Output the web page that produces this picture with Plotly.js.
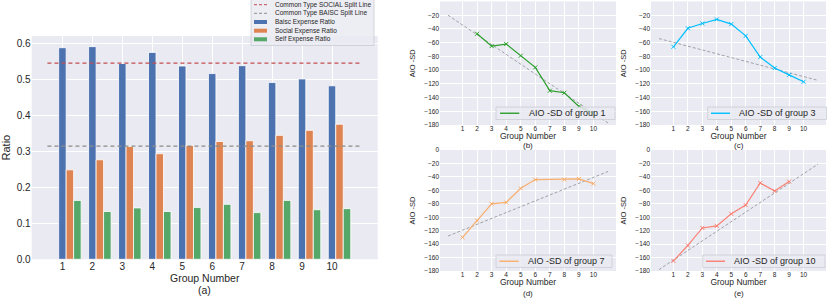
<!DOCTYPE html>
<html>
<head>
<meta charset="utf-8">
<script src="https://cdn.plot.ly/plotly-3.0.1.min.js"></script>
<style>html,body{margin:0;padding:0;background:#fff;}#chart{width:830px;height:300px;}</style>
</head>
<body>
<div id="chart"></div>
<script>
// ---------- data ----------
const groups = [1, 2, 3, 4, 5, 6, 7, 8, 9, 10];
const groupTickText = ['1', '2', '3', '4', '5', '6', '7', '8', '9', '10'];
const basicRatio  = [0.589, 0.592, 0.545, 0.576, 0.538, 0.517, 0.539, 0.492, 0.502, 0.483];
const socialRatio = [0.249, 0.277, 0.314, 0.294, 0.317, 0.328, 0.330, 0.345, 0.359, 0.376];
const selfRatio   = [0.164, 0.133, 0.143, 0.133, 0.144, 0.153, 0.130, 0.164, 0.138, 0.141];
const socialSplitX = [0.5, 11];
const socialSplitY = [0.546, 0.546];
const basicSplitX = [0.5, 11];
const basicSplitY = [0.315, 0.315];

const g1X = [2, 3, 4, 5, 6, 7, 8, 9, 10];
const g1Y = [-47, -65, -62, -79, -96, -130, -133, -153, -163];
const g3X = [1, 2, 3, 4, 5, 6, 7, 8, 9, 10];
const g3Y = [-66, -39, -32, -26, -33, -50, -81, -97, -107, -117];
const g7X = [1, 2, 3, 4, 5, 6, 8, 9, 10];
const g7Y = [-130, -105, -80, -78, -57, -44, -44, -43, -50];
const g10X = [1, 2, 3, 4, 5, 6, 7, 8, 9];
const g10Y = [-165, -142, -116, -113, -95, -82, -49, -61, -47];

const trendX = [0, 11];
const trend1Y = [-20, -177];
const trend3Y = [-54, -115];
const trend7Y = [-128, -32];
const trend10Y = [-178, -21];

const aioTicks = [-180, -160, -140, -120, -100, -80, -60, -40, -20, 0];
const ratioTicks = [0, 0.1, 0.2, 0.3, 0.4, 0.5, 0.6];

const mainLegendLabels = ['Common Type SOCIAL Split Line', 'Common Type BAISC Split Line',
  'Baisc Expense Ratio', 'Social Expense Ratio', 'Self Expense Ratio'];
const subLegendLabels = ['AIO -SD of group 1', 'AIO -SD of group 3', 'AIO -SD of group 7', 'AIO -SD of group 10'];
const panelLabels = ['(a)', '(b)', '(c)', '(d)', '(e)'];

// ---------- styling ----------
const W = 830, H = 300;
const px = x => x / W;
const py = y => 1 - y / H;
const BG = '#EAEAF2';
const TXT = '#262626';
const FONT = 'Liberation Sans, Arial, sans-serif';
const cBasic = '#4C72B0', cSocial = '#DD8452', cSelf = '#55A868';
const cRed = '#C44E52', cGray = '#8C8C8C', cTrend = '#A0A0A8';
const lineColors = ['#2CA02C', '#00BFFF', '#F8AE6C', '#FA8072'];

const traces = [];
// bars
[[basicRatio, cBasic, -0.125, mainLegendLabels[2]],
 [socialRatio, cSocial, 0.125, mainLegendLabels[3]],
 [selfRatio, cSelf, 0.375, mainLegendLabels[4]]].forEach(([vals, col, off, name]) => {
  traces.push({type: 'bar', x: groups, y: vals, width: 0.25, offset: off, name: name,
    marker: {color: col, line: {color: '#ffffff', width: 0.8}}, xaxis: 'x', yaxis: 'y', showlegend: false});
});
traces.push({type: 'scatter', mode: 'lines', x: socialSplitX, y: socialSplitY, name: mainLegendLabels[0],
  line: {color: cRed, width: 1.2, dash: '4px,3px'}, xaxis: 'x', yaxis: 'y', showlegend: false});
traces.push({type: 'scatter', mode: 'lines', x: basicSplitX, y: basicSplitY, name: mainLegendLabels[1],
  line: {color: cGray, width: 1.2, dash: '4px,3px'}, xaxis: 'x', yaxis: 'y', showlegend: false});

// sub panels
const subs = [[g1X, g1Y, trend1Y, 'x2', 'y2'], [g3X, g3Y, trend3Y, 'x3', 'y3'],
              [g7X, g7Y, trend7Y, 'x4', 'y4'], [g10X, g10Y, trend10Y, 'x5', 'y5']];
subs.forEach(([xs, ys, tr, xa, ya], i) => {
  traces.push({type: 'scatter', mode: 'lines', x: trendX, y: tr, xaxis: xa, yaxis: ya, showlegend: false,
    line: {color: cTrend, width: 1, dash: '3px,2px'}, hoverinfo: 'skip'});
  traces.push({type: 'scatter', mode: 'lines+markers', x: xs, y: ys, xaxis: xa, yaxis: ya, showlegend: false,
    name: subLegendLabels[i],
    line: {color: lineColors[i], width: 1.2},
    marker: {symbol: 'x-thin', size: 4, line: {color: lineColors[i], width: 1}}});
});

// ---------- axes ----------
function subX(dom) {
  return {domain: dom, range: [-0.55, 11.55], tickvals: groups, ticktext: groupTickText,
    tickfont: {size: 6.5, color: TXT}, showgrid: true, gridcolor: '#ffffff', gridwidth: 1,
    zeroline: false, showline: false, ticks: '', automargin: false, ticklabelstandoff: -2,
    title: {text: 'Group Number', font: {size: 8.5, color: TXT}, standoff: 0}};
}
function subY(dom) {
  return {domain: dom, range: [-180, 0], tickvals: aioTicks, tickfont: {size: 6.5, color: TXT},
    showgrid: true, gridcolor: '#ffffff', gridwidth: 1, zeroline: false, showline: false, ticks: '',
    automargin: false, title: {text: 'AIO -SD', font: {size: 7.5, color: TXT}, standoff: 7}};
}
const domBx = [px(440), px(616)], domCx = [px(651), px(826)];
const domTopY = [py(125), py(1.5)], domBotY = [py(271), py(150)];

const layout = {
  width: W, height: H, margin: {l: 0, r: 0, t: 0, b: 0},
  paper_bgcolor: '#ffffff', plot_bgcolor: BG, font: {family: FONT, color: TXT},
  barmode: 'overlay', showlegend: false,
  xaxis: {domain: [px(31.7), px(377.7)], range: [-0.025, 11.525], tickvals: groups, ticktext: groupTickText,
    tickfont: {size: 10, color: TXT}, showgrid: true, gridcolor: '#ffffff', zeroline: false, showline: false,
    ticks: '', automargin: false, title: {text: 'Group Number', font: {size: 10.5, color: TXT}, standoff: 0}},
  yaxis: {domain: [py(259.3), py(36)], range: [0, 0.6216], tickvals: ratioTicks, tickformat: '.1f',
    tickfont: {size: 10, color: TXT}, showgrid: true, gridcolor: '#ffffff', zeroline: false, showline: false,
    ticks: '', automargin: false, title: {text: 'Ratio', font: {size: 11, color: TXT}, standoff: 3}},
  xaxis2: Object.assign(subX(domBx), {anchor: 'y2'}), yaxis2: Object.assign(subY(domTopY), {anchor: 'x2'}),
  xaxis3: Object.assign(subX(domCx), {anchor: 'y3'}), yaxis3: Object.assign(subY(domTopY), {anchor: 'x3'}),
  xaxis4: Object.assign(subX(domBx), {anchor: 'y4'}), yaxis4: Object.assign(subY(domBotY), {anchor: 'x4'}),
  xaxis5: Object.assign(subX(domCx), {anchor: 'y5'}), yaxis5: Object.assign(subY(domBotY), {anchor: 'x5'}),
  shapes: [], annotations: []
};

// panel labels
const panelPos = [[204.7, 290, 10.5], [528, 145, 8], [738.5, 145, 8], [528, 293.5, 8], [738.5, 293.5, 8]];
panelLabels.forEach((t, i) => {
  const [x, y, s] = panelPos[i];
  layout.annotations.push({xref: 'paper', yref: 'paper', x: px(x), y: py(y), text: t, showarrow: false,
    xanchor: 'center', yanchor: 'middle', font: {size: s, color: TXT}});
});

// main legend (compact, drawn as shapes + text)
const legFill = 'rgba(234,234,242,0.85)', legEdge = 'rgba(200,200,210,0.9)';
layout.shapes.push({type: 'rect', xref: 'paper', yref: 'paper', x0: px(251), x1: px(374), y0: py(45.5), y1: py(-1),
  fillcolor: legFill, line: {color: legEdge, width: 0.8}, layer: 'above'});
const rowsY = [4.7, 13.3, 22, 30.7, 39.3];
const legSym = [['line', cRed], ['line', cGray], ['rect', cBasic], ['rect', cSocial], ['rect', cSelf]];
legSym.forEach(([kind, col], i) => {
  const y = rowsY[i];
  if (kind === 'line') {
    layout.shapes.push({type: 'line', xref: 'paper', yref: 'paper', x0: px(254), x1: px(267), y0: py(y), y1: py(y),
      line: {color: col, width: 1, dash: '3px,2px'}, layer: 'above'});
  } else {
    layout.shapes.push({type: 'rect', xref: 'paper', yref: 'paper', x0: px(254), x1: px(267), y0: py(y + 2), y1: py(y - 2),
      fillcolor: col, line: {width: 0}, layer: 'above'});
  }
  layout.annotations.push({xref: 'paper', yref: 'paper', x: px(272.5), y: py(y), text: mainLegendLabels[i],
    showarrow: false, xanchor: 'left', yanchor: 'middle', font: {size: 6.5, color: TXT}});
});

// sub legends
const subLeg = [[496, 615, 107, 119.5, 500, 519.3, 526.5],
                [707.7, 826.5, 107, 119.5, 711, 730, 736.5],
                [496, 612, 255, 267.5, 499.3, 518.7, 526],
                [702.7, 825, 255, 267.5, 706, 725, 732]];
subLeg.forEach(([bx0, bx1, by0, by1, lx0, lx1, tx], i) => {
  const cy = (by0 + by1) / 2;
  layout.shapes.push({type: 'rect', xref: 'paper', yref: 'paper', x0: px(bx0), x1: px(bx1), y0: py(by1), y1: py(by0),
    fillcolor: legFill, line: {color: legEdge, width: 0.8}, layer: 'above'});
  layout.shapes.push({type: 'line', xref: 'paper', yref: 'paper', x0: px(lx0), x1: px(lx1), y0: py(cy), y1: py(cy),
    line: {color: lineColors[i], width: 1.4}, layer: 'above'});
  layout.annotations.push({xref: 'paper', yref: 'paper', x: px(tx), y: py(cy), text: subLegendLabels[i],
    showarrow: false, xanchor: 'left', yanchor: 'middle', font: {size: 9, color: TXT}});
});

Plotly.newPlot('chart', traces, layout, {staticPlot: true, displayModeBar: false});
</script>
</body>
</html>
